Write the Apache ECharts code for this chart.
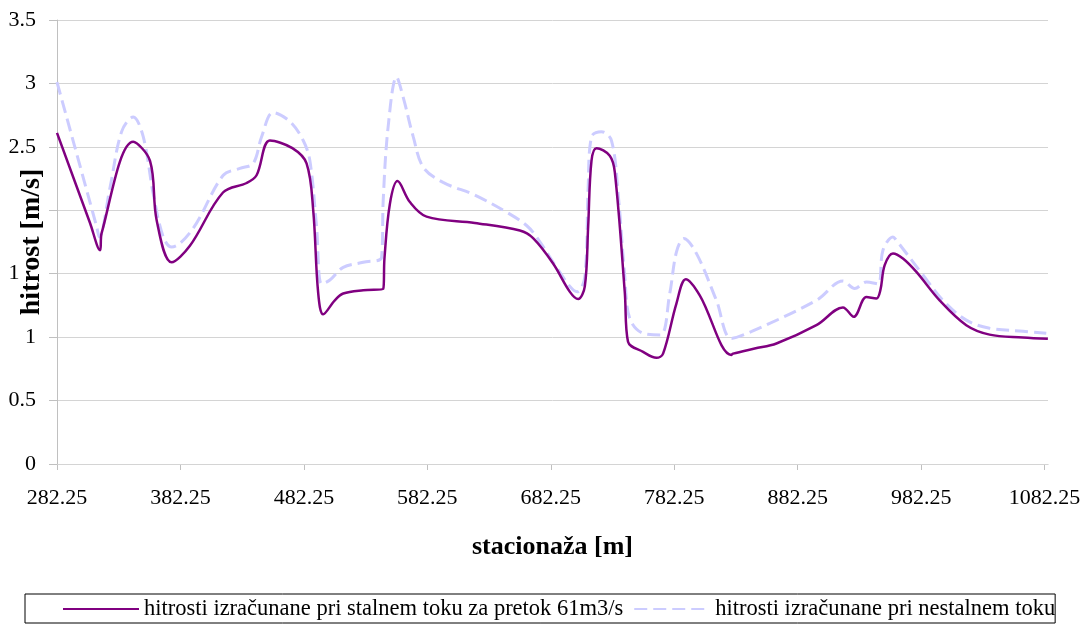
<!DOCTYPE html>
<html>
<head>
<meta charset="utf-8">
<title>hitrost</title>
<script src="https://cdn.jsdelivr.net/npm/echarts@6/dist/echarts.min.js"></script>
<style>
  html, body { margin: 0; padding: 0; background: #fff; }
  #chart { width: 1081px; height: 624px; }
</style>
</head>
<body>
<div id="chart"></div>
<script>
// stacionaza [m] in hitrost [m/s], odcitano s slike
var stalniX = [282.25, 309, 317.1, 318.4, 344, 357.6, 363, 375.1, 389.9, 416.7, 435.9, 443.9, 454.7, 472.9, 484.4, 489.8, 493.8, 497.9, 507.3, 514.1, 530.3, 546.5, 547.5, 551.9, 558.1, 568.1, 581.6, 620.7, 657.2, 667.9, 684.1, 697.7, 704.4, 709.8, 712.5, 715.2, 719.3, 730, 734.1, 742.2, 744.8, 757, 767.8, 773.2, 784, 791.6, 802.9, 828.5, 829.9, 847.4, 865, 897.4, 918.9, 927.6, 937.9, 946, 949.2, 952.7, 959.4, 967.5, 978.4, 997.2, 1018.8, 1037.7, 1064.7, 1084.9];
var stalniY = [2.61, 1.90, 1.685, 1.82, 2.54, 2.39, 1.92, 1.59, 1.72, 2.14, 2.215, 2.276, 2.55, 2.49, 2.37, 2.0, 1.35, 1.18, 1.29, 1.344, 1.37, 1.38, 1.62, 2.05, 2.23, 2.065, 1.95, 1.90, 1.84, 1.78, 1.58, 1.357, 1.30, 1.40, 1.87, 2.39, 2.49, 2.43, 2.30, 1.35, 0.963, 0.884, 0.837, 0.87, 1.265, 1.457, 1.33, 0.86, 0.87, 0.91, 0.95, 1.094, 1.234, 1.16, 1.317, 1.305, 1.37, 1.567, 1.66, 1.62, 1.514, 1.29, 1.094, 1.02, 0.998, 0.987];

var nestalniX = [282.25, 314.4, 316.5, 325.2, 334.6, 344, 352.1, 360.2, 368.3, 375.1, 392, 416.9, 430.4, 441.2, 448, 457.4, 470.9, 481.7, 487.1, 492.5, 496.6, 503.3, 514.1, 530.3, 545.2, 546.5, 550.5, 557.3, 562.7, 570.8, 578.9, 595, 620.7, 649.1, 662.6, 670.7, 686.9, 697.7, 703.6, 709.8, 712.5, 715.2, 723.3, 731.4, 736.8, 742.2, 746.2, 757, 770.9, 778.6, 784, 790, 800.2, 816.4, 828.5, 845, 897.4, 918.9, 928.4, 937.9, 947.3, 951.3, 959.4, 962.1, 983.7, 999.9, 1018.8, 1037.7, 1064.7, 1083.6];
var nestalniY = [3.01, 1.87, 1.79, 2.18, 2.62, 2.735, 2.58, 2.13, 1.79, 1.71, 1.85, 2.276, 2.33, 2.37, 2.58, 2.77, 2.70, 2.55, 2.39, 1.87, 1.42, 1.45, 1.55, 1.59, 1.63, 2.08, 2.66, 3.05, 2.89, 2.58, 2.34, 2.22, 2.12, 1.97, 1.88, 1.79, 1.55, 1.40, 1.357, 1.475, 2.18, 2.58, 2.62, 2.55, 2.13, 1.475, 1.147, 1.03, 1.016, 1.344, 1.67, 1.777, 1.66, 1.29, 0.99, 1.045, 1.29, 1.443, 1.383, 1.435, 1.42, 1.685, 1.79, 1.764, 1.49, 1.29, 1.134, 1.07, 1.047, 1.03];

var xTicks = [282.25, 382.25, 482.25, 582.25, 682.25, 782.25, 882.25, 982.25, 1082.25];

var imeStalni = 'hitrosti izračunane pri stalnem toku za pretok 61m3/s';
var imeNestalni = 'hitrosti izračunane pri nestalnem toku';

function pari(xs, ys) {
    var out = [];
    for (var i = 0; i < xs.length; i++) {
        out.push([xs[i], ys[i]]);
    }
    return out;
}

var font = 'Liberation Serif, Times New Roman, serif';
var myChart = echarts.init(document.getElementById('chart'), null, { renderer: 'canvas' });

var option = {
    animation: false,
    textStyle: { fontFamily: font },
    grid: { left: 57, right: 33, top: 20, bottom: 160, containLabel: false, outerBoundsMode: 'none' },
    legend: {
        left: 25,
        top: 594,
        padding: [3, 0, 2, 37],
        borderColor: '#000',
        borderWidth: 1,
        itemWidth: 76,
        itemHeight: 14,
        itemGap: 10,
        itemStyle: { opacity: 0 },
        textStyle: { fontFamily: font, fontSize: 22.5, color: '#000', lineHeight: 24 },
        data: [imeStalni, imeNestalni]
    },
    xAxis: {
        type: 'value',
        min: 282.25,
        max: 1085,
        name: 'stacionaža [m]',
        nameLocation: 'middle',
        nameGap: 70,
        nameMoveOverlap: false,
        nameTextStyle: { fontFamily: font, fontSize: 26, fontWeight: 'bold', color: '#000' },
        axisLine: { lineStyle: { color: '#c0c0c0', width: 1 } },
        axisTick: { show: true, length: 6, lineStyle: { color: '#c0c0c0' }, customValues: xTicks },
        axisLabel: {
            fontFamily: font, fontSize: 22, color: '#000', margin: 23,
            customValues: xTicks,
            formatter: function (v) { return v.toFixed(2); }
        },
        splitLine: { show: false }
    },
    yAxis: [
        {
            type: 'value',
            min: 0,
            max: 3.5,
            interval: 0.5,
            z: 1,
            axisLine: { show: true, lineStyle: { color: '#c0c0c0', width: 1 } },
            axisTick: { show: true, length: 8, lineStyle: { color: '#c0c0c0' } },
            axisLabel: { fontFamily: font, fontSize: 22, color: '#000', margin: 21 },
            splitLine: { lineStyle: { color: '#d4d4d4', width: 1 } }
        },
        {
            // naslov osi posebej, da lezi cez oznake kot v izvirniku
            type: 'value',
            position: 'left',
            min: 0,
            max: 3.5,
            interval: 0.5,
            z: 5,
            name: 'hitrost [m/s]',
            nameLocation: 'middle',
            nameGap: 13,
            nameMoveOverlap: false,
            nameTextStyle: { fontFamily: font, fontSize: 28, fontWeight: 'bold', color: '#000', backgroundColor: '#fff', lineHeight: 24 },
            axisLine: { show: false },
            axisTick: { show: false },
            axisLabel: { show: false },
            splitLine: { show: false }
        }
    ],
    series: [
        {
            name: imeStalni,
            type: 'line',
            smooth: 0.35,
            symbol: 'none',
            yAxisIndex: 0,
            data: pari(stalniX, stalniY),
            lineStyle: { color: '#800080', width: 2.5 },
            itemStyle: { color: '#800080' },
            z: 3
        },
        {
            name: imeNestalni,
            type: 'line',
            smooth: 0.35,
            symbol: 'none',
            yAxisIndex: 0,
            data: pari(nestalniX, nestalniY),
            lineStyle: { color: '#ccccff', width: 3, type: [13, 6] },
            itemStyle: { color: '#ccccff' },
            z: 2
        }
    ]
};

myChart.setOption(option);
</script>
</body>
</html>
